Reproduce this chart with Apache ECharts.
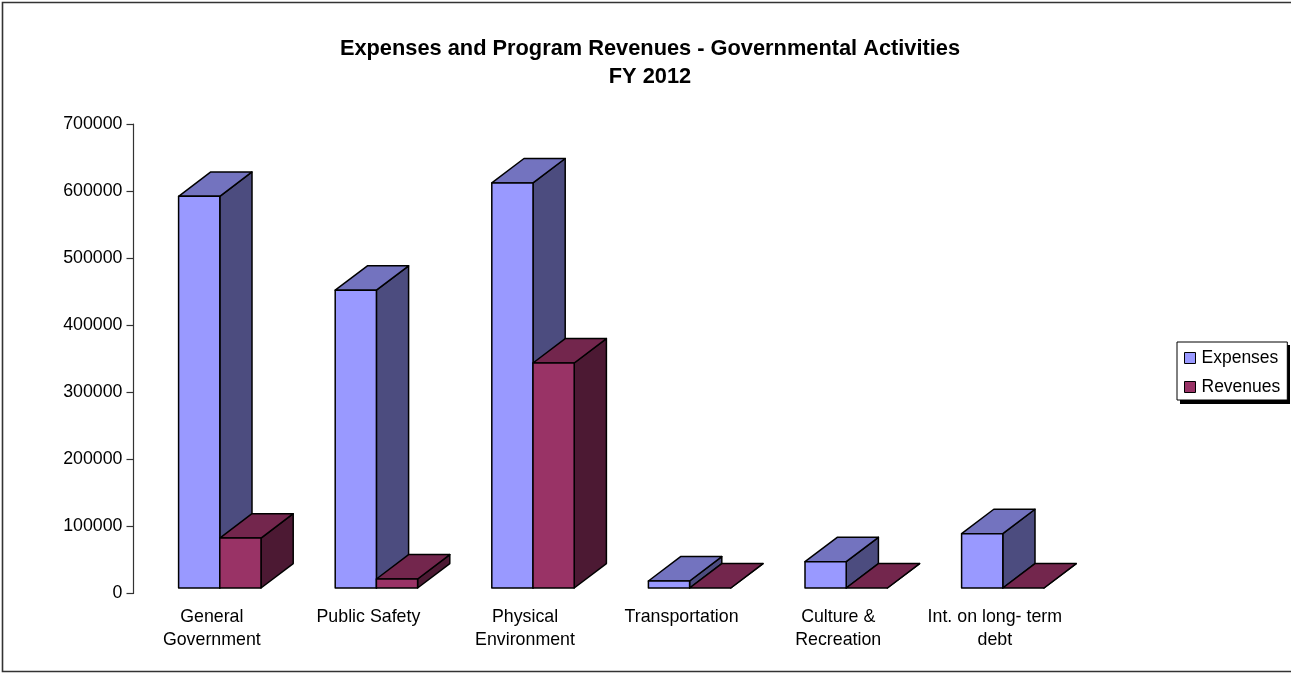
<!DOCTYPE html>
<html>
<head>
<meta charset="utf-8">
<style>html,body{margin:0;padding:0;background:#fff}#c{width:1291px;height:673px}</style>
<script src="https://cdn.jsdelivr.net/npm/echarts@6/dist/echarts.min.js"></script>
</head>
<body>
<div id="c"></div>
<script>
var categories = ['General\nGovernment', 'Public Safety', 'Physical\nEnvironment', 'Transportation', 'Culture &\nRecreation', 'Int. on long- term\ndebt'];
var expenses = [584000, 444000, 604000, 10400, 39200, 81000];
var revenues = [74500, 13400, 335500, 0, 0, 0];
var yTicks = [0, 100000, 200000, 300000, 400000, 500000, 600000, 700000];

var FONT = '"Liberation Sans", Arial, sans-serif';
var BAR_W = 41.2, DX = 32.2, DY = 24.4, FLOOR_X = 8, FLOOR_Y = 5.5;

function box(slot, front, top, side) {
  return function (params, api) {
    var base = api.coord([api.value(0), 0]);
    var head = api.coord([api.value(0), api.value(1)]);
    var x0 = base[0] + FLOOR_X + (slot - 1) * BAR_W;
    var x1 = x0 + BAR_W;
    var yb = base[1] - FLOOR_Y;
    var yt = head[1] - FLOOR_Y;
    var line = {stroke: '#000', lineWidth: 1.5, lineJoin: 'round'};
    function poly(points, fill) {
      return {type: 'polygon', shape: {points: points}, style: Object.assign({fill: fill}, line)};
    }
    var children = [
      poly([[x1, yb], [x1 + DX, yb - DY], [x1 + DX, yt - DY], [x1, yt]], side),
      poly([[x0, yt], [x0 + DX, yt - DY], [x1 + DX, yt - DY], [x1, yt]], top)
    ];
    if (yb - yt > 0.5) {
      children.push(poly([[x0, yb], [x1, yb], [x1, yt], [x0, yt]], front));
    }
    return {type: 'group', children: children};
  };
}

function rows(values) {
  return values.map(function (v, i) { return [i, v]; });
}

var chart = echarts.init(document.getElementById('c'), null, {renderer: 'canvas'});
chart.setOption({
  animation: false,
  backgroundColor: '#fff',
  graphic: [{
    type: 'rect', silent: true, z: -10,
    shape: {x: 2.5, y: 2.5, width: 1300, height: 669},
    style: {fill: 'none', stroke: '#333', lineWidth: 1.6}
  }, {
    type: 'rect', silent: true, z: -5,
    shape: {x: 1180, y: 345, width: 110, height: 59},
    style: {fill: '#000'}
  }],
  title: {
    text: 'Expenses and Program Revenues - Governmental Activities\nFY 2012',
    left: 645, top: 30, textAlign: 'center',
    textStyle: {fontFamily: FONT, fontSize: 21.8, fontWeight: 'bold', color: '#000', lineHeight: 28}
  },
  legend: {
    left: 1177, top: 342, orient: 'vertical',
    padding: [7, 7, 4, 7], itemWidth: 11, itemHeight: 11, itemGap: 11,
    backgroundColor: '#fff', borderColor: '#000', borderWidth: 1,
    icon: 'rect',
    textStyle: {fontFamily: FONT, fontSize: 17.5, color: '#000', padding: [0, 0, 0, 1]},
    data: [
      {name: 'Expenses', itemStyle: {color: '#9999FF', borderColor: '#000', borderWidth: 1}},
      {name: 'Revenues', itemStyle: {color: '#993366', borderColor: '#000', borderWidth: 1}}
    ]
  },
  grid: {left: 133.5, right: 217.9, top: 124, bottom: 79.5},
  xAxis: {
    type: 'category', data: categories,
    axisLine: {show: false}, axisTick: {show: false}, splitLine: {show: false},
    axisLabel: {
      interval: 0, margin: 12, color: '#000',
      fontFamily: FONT, fontSize: 17.8, lineHeight: 23
    }
  },
  yAxis: {
    type: 'value', min: yTicks[0], max: yTicks[yTicks.length - 1], interval: 100000,
    axisLine: {show: true, lineStyle: {color: '#333', width: 1.2}},
    axisTick: {show: true, length: 7, lineStyle: {color: '#333', width: 1.2}},
    splitLine: {show: false},
    axisLabel: {
      margin: 11, color: '#000', fontFamily: FONT, fontSize: 17.8,
      formatter: function (v) { return String(v); }
    }
  },
  series: [
    {
      name: 'Expenses', type: 'custom', data: rows(expenses),
      encode: {x: 0, y: 1}, itemStyle: {color: '#9999FF'},
      renderItem: box(0, '#9999FF', '#7373BF', '#4C4C7F')
    },
    {
      name: 'Revenues', type: 'custom', data: rows(revenues),
      encode: {x: 0, y: 1}, itemStyle: {color: '#993366'},
      renderItem: box(1, '#993366', '#73264D', '#4C1933')
    }
  ]
});
</script>
</body>
</html>
